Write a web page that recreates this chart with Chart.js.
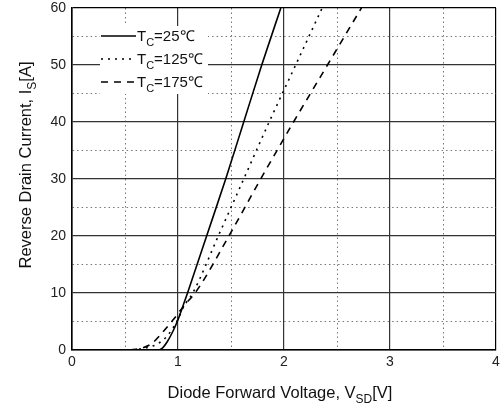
<!DOCTYPE html>
<html><head><meta charset="utf-8">
<script src="https://cdn.jsdelivr.net/npm/chart.js@4"></script>
<style>html,body{margin:0;padding:0;background:#fff}</style>
</head><body>
<canvas id="c" width="504" height="408"></canvas>
<script>
// ---- data ----
const seriesLabels = ['25℃', '125℃', '175℃'];
const v25  = [0.5, 0.8, 0.85, 0.9, 0.95, 1.0, 1.05, 1.09, 1.27, 1.45, 1.62, 1.79, 1.97];
const i25  = [0,   0,   0.3,  1.5, 3.2,  5.3, 7.9,  10,   20,   30,   40,   50,   60];
const v125 = [0.5, 0.6, 0.7, 0.8, 0.9, 1.0, 1.05, 1.14, 1.38, 1.62, 1.86, 2.11, 2.36];
const i125 = [0,   0.1, 0.4, 1.0, 2.5, 5.4, 7.5,  10,   20,   30,   40,   50,   60];
const v175 = [0.55, 0.65, 0.75, 0.85, 0.95, 1.05, 1.18, 1.48, 1.78, 2.09, 2.41, 2.73];
const i175 = [0,    0.3,  1.1,  3.0,  5.2,  7.6,  10.5, 20,   30,   40,   50,   60];
const xTicks = [0, 1, 2, 3, 4];
const yTicks = [0, 10, 20, 30, 40, 50, 60];

const pts = (xs, ys) => xs.map((x, k) => ({x, y: ys[k]}));
const FONT = 'Liberation Sans, Arial, sans-serif';

const frameAndTitles = {
  id: 'frameAndTitles',
  afterDraw(chart) {
    const ctx = chart.ctx, a = chart.chartArea;
    ctx.save();
    // legend box
    const lx = 100, ly = 26, lw = 108, lh = 68;
    ctx.fillStyle = '#fff';
    ctx.fillRect(lx, ly, lw, lh);
    const rows = [36, 59, 82];
    chart.data.datasets.forEach((ds, k) => {
      ctx.beginPath();
      ctx.strokeStyle = '#000';
      ctx.lineWidth = 1.6;
      ctx.setLineDash(ds.borderDash || []);
      ctx.moveTo(101, rows[k]); ctx.lineTo(136, rows[k]);
      ctx.stroke();
      ctx.setLineDash([]);
      drawRich(ctx, 137, rows[k] + 5, [['T', 0], ['C', 1], ['=' + ds.label, 0]], 15, 'left');
    });
    // axis titles
    drawRich(ctx, 280, 398, [['Diode Forward Voltage, V', 0], ['SD', 1], ['[V]', 0]], 16.5, 'center');
    ctx.translate(31, 165);
    ctx.rotate(-Math.PI / 2);
    drawRich(ctx, 0, 0, [['Reverse Drain Current, I', 0], ['S', 1], ['[A]', 0]], 16.5, 'center');
    ctx.restore();
  }
};

function drawRich(ctx, x, y, parts, size, align) {
  const fonts = parts.map(p => (p[1] ? Math.round(size * 0.72) : size) + 'px ' + FONT);
  let total = 0;
  const widths = parts.map((p, k) => { ctx.font = fonts[k]; const w = ctx.measureText(p[0]).width; total += w; return w; });
  let cx = align === 'center' ? x - total / 2 : x;
  ctx.fillStyle = '#111';
  ctx.textBaseline = 'alphabetic';
  ctx.textAlign = 'left';
  parts.forEach((p, k) => {
    ctx.font = fonts[k];
    ctx.fillText(p[0], cx, y + (p[1] ? size * 0.3 : 0));
    cx += widths[k];
  });
}

const gridColor = (minorTest, maxVal) => (c) => {
  if (!c.tick) return '#000';
  const v = c.tick.value;
  if (v === maxVal) return '#000';
  return minorTest(v) ? '#777' : '#333';
};

new Chart(document.getElementById('c'), {
  type: 'scatter',
  data: {
    datasets: [
      { label: seriesLabels[0], data: pts(v25, i25), borderDash: [] },
      { label: seriesLabels[1], data: pts(v125, i125), borderDash: [2, 5] },
      { label: seriesLabels[2], data: pts(v175, i175), borderDash: [7, 6] }
    ].map(d => Object.assign(d, {
      showLine: true, borderColor: '#000', borderWidth: 1.6, pointRadius: 0,
      cubicInterpolationMode: 'monotone', fill: false
    }))
  },
  options: {
    responsive: false, animation: false,
    layout: { padding: { top: 8, right: 8, left: 0, bottom: 0 } },
    plugins: { legend: { display: false }, tooltip: { enabled: false } },
    scales: {
      x: {
        type: 'linear', min: 0, max: 4,
        afterFit: s => { s.height = 58; s.paddingLeft = 0; s.paddingRight = 0; },
        ticks: {
          stepSize: 0.5, autoSkip: false, maxRotation: 0,
          color: '#222', font: { family: FONT, size: 14 }, padding: 4,
          callback: v => xTicks.includes(v) ? String(v) : ''
        },
        grid: {
          drawTicks: false,
          color: gridColor(v => v % 1 !== 0, 4),
          lineWidth: c => (c.tick && c.tick.value % 1 !== 0) ? 1 : 1.2
        },
        border: {
          color: '#000', width: 1.6,
          dash: c => (c.tick && c.tick.value % 1 !== 0) ? [1.5, 3] : []
        }
      },
      y: {
        type: 'linear', min: 0, max: 60,
        afterFit: s => { s.width = 72; s.paddingTop = 0; s.paddingBottom = 0; },
        ticks: {
          stepSize: 5, autoSkip: false,
          color: '#222', font: { family: FONT, size: 14 }, padding: 6,
          callback: v => yTicks.includes(v) ? String(v) : ''
        },
        grid: {
          drawTicks: false,
          color: gridColor(v => v % 10 !== 0, 60),
          lineWidth: c => (c.tick && c.tick.value % 10 !== 0) ? 1 : 1.2
        },
        border: {
          color: '#000', width: 1.6,
          dash: c => (c.tick && c.tick.value % 10 !== 0) ? [1.5, 3] : []
        }
      }
    }
  },
  plugins: [frameAndTitles]
});
</script>
</body></html>
